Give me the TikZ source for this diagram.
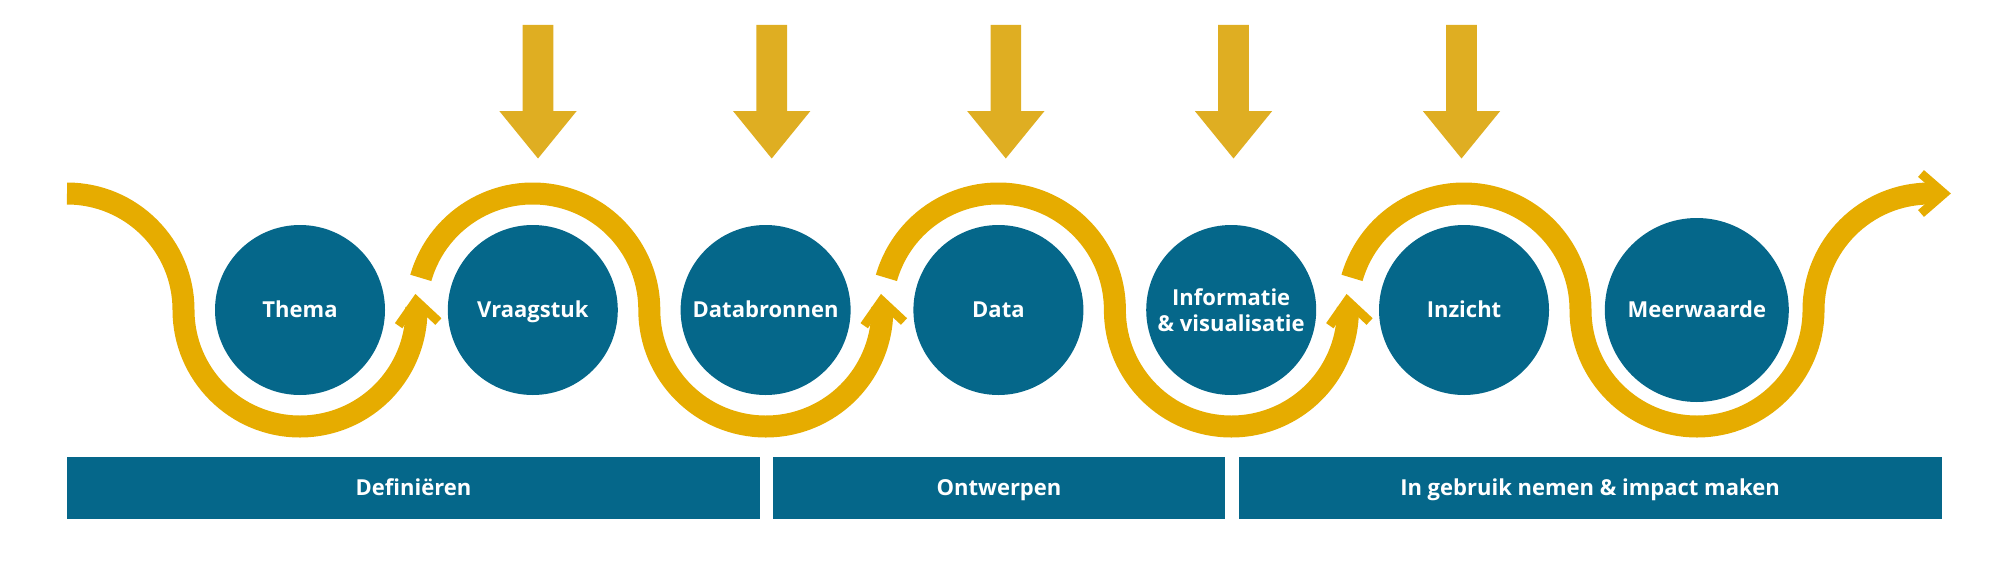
\documentclass[tikz,border=0pt]{standalone}
\usepackage{fontspec}
\setmainfont{Open Sans}
\usetikzlibrary{calc}
\definecolor{stageblue}{HTML}{05678A}
\definecolor{flowgold}{HTML}{E6AC00}
\definecolor{dropgold}{HTML}{DFAE22}
\begin{document}
\begin{tikzpicture}[x=0.5pt,y=0.5pt,
  stage/.style={circle, fill=stageblue, inner sep=0pt, minimum size=85pt, text=white,
    font=\bfseries\fontsize{11}{13.25}\selectfont, align=center, text height=7.85pt, text depth=0pt},
  phase/.style={rectangle, fill=stageblue, inner sep=0pt, minimum height=31pt, text=white,
    font=\bfseries\fontsize{11}{14}\selectfont, text height=7.85pt, text depth=0pt},
  flow/.style={draw=flowgold, line width=11pt},
  chev/.style={draw=flowgold, line width=4.5pt, miter limit=10, line join=miter},
  chevron/.pic={\draw[chev] (-30,20) -- (-7,0) -- (-30,-20);},
  droparrow/.pic={\fill[dropgold] (-15.3,0) -- (15.3,0) -- (15.3,-86) -- (38.7,-86) -- (0,-133.5) -- (-38.7,-86) -- (-15.3,-86) -- cycle;}]
\useasboundingbox (0,0) rectangle (2000,580);

% stages
\node[stage] (th) at (300,270) {Thema};
\node[stage] (vr) at (532.8,270) {Vraagstuk};
\node[stage] (db) at (765.6,270) {Databronnen};
\node[stage] (da) at (998.4,270) {Data};
\node[stage, text height={}, text depth={}] (iv) at (1231.2,270) {Informatie\\\& visualisatie};
\node[stage] (iz) at (1464,270) {Inzicht};
\node[stage, minimum size=92pt] (mw) at (1696.8,270) {Meerwaarde};

% phases
\node[phase, minimum width=346.5pt] (def) at (413.5,92) {Definiëren};
\node[phase, minimum width=226pt] (ont) at (999,92) {Ontwerpen};
\node[phase, minimum width=351.5pt] (geb) at (1590,92) {In gebruik nemen \& impact maken};

% input arrows
\pic at (538,555) {droparrow};
\pic at (771.7,555) {droparrow};
\pic at (1005.8,555) {droparrow};
\pic at (1233.5,555) {droparrow};
\pic at (1461.5,555) {droparrow};

% flow
\coordinate (start) at (67,386.5);
\draw[flow] (start) arc[start angle=90, end angle=0, radius=116.5]
  arc[start angle=180, end angle=361.6, radius=116.5];
\pic[rotate=96] at ($(th.center)+(8:116.5)$) {chevron};

\draw[flow] ($(vr.center)+(164:116.5)$) arc[start angle=164, end angle=0, radius=116.5]
  arc[start angle=180, end angle=361.6, radius=116.5];
\pic[rotate=96] at ($(db.center)+(8:116.5)$) {chevron};

\draw[flow] ($(da.center)+(164:116.5)$) arc[start angle=164, end angle=0, radius=116.5]
  arc[start angle=180, end angle=361.6, radius=116.5];
\pic[rotate=96] at ($(iv.center)+(8:116.5)$) {chevron};

\draw[flow] ($(iz.center)+(164:116.5)$) arc[start angle=164, end angle=0, radius=116.5]
  arc[start angle=180, end angle=360, radius=116.5]
  arc[start angle=180, end angle=90, radius=116.5] -- ++(8,0) coordinate (finish);
\pic at ($(finish)+(13,0)$) {chevron};
\end{tikzpicture}
\end{document}
